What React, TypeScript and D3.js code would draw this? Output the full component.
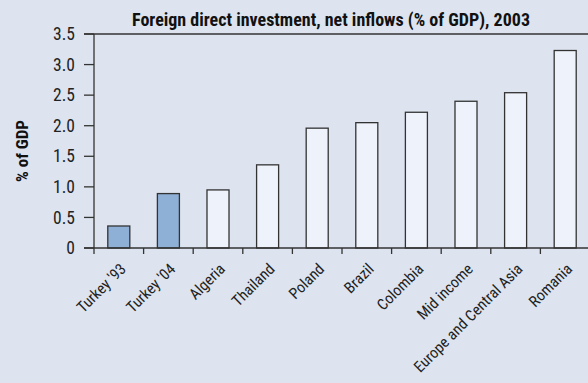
import React from "react";
import * as d3 from "d3";

const categories = ["Turkey '93", "Turkey '04", "Algeria", "Thailand", "Poland", "Brazil", "Colombia", "Mid income", "Europe and Central Asia", "Romania"];
const values = [0.36, 0.89, 0.95, 1.36, 1.96, 2.05, 2.22, 2.40, 2.54, 3.23];
const highlighted = [true, true, false, false, false, false, false, false, false, false];
const yTicks = [0, 0.5, 1.0, 1.5, 2.0, 2.5, 3.0, 3.5];
const yTickLabels = ["0", "0.5", "1.0", "1.5", "2.0", "2.5", "3.0", "3.5"];
const title = "Foreign direct investment, net inflows (% of GDP), 2003";
const yLabel = "% of GDP";

const W = 588, H = 383;
const left = 94, top = 34, bottom = 248;
const step = 49.6;
const FONT = "'Liberation Sans Narrow', 'Roboto Condensed', 'Arial Narrow', sans-serif";

export default function App() {
  // 11 slots; the last is cut off by the frame
  const domain = [...categories, "_"];
  const x = d3.scaleBand<string>().domain(domain).range([left, left + step * domain.length]).paddingInner(0.556).paddingOuter(0.278);
  const y = d3.scaleLinear().domain([0, 3.5]).range([bottom, top]);
  const boundaries = d3.range(domain.length + 1).map((i) => left + i * x.step());
  return (
    <svg width={W} height={H} style={{ position: "absolute", left: 0, top: 0, background: "#dde4ef" }}>
      <rect x={0} y={0} width={W} height={H} fill="#dde4ef" />
      <text x={331} y={26} textAnchor="middle" fontFamily={FONT} fontWeight="bold" fontSize={18} fill="#111">{title}</text>
      <text transform={`translate(28,${151}) rotate(-90)`} textAnchor="middle" fontFamily={FONT} fontWeight="bold" fontSize={17} fill="#111">{yLabel}</text>
      {categories.map((c, i) => (
        <rect key={c} x={x(c)} y={y(values[i])} width={x.bandwidth()} height={bottom - y(values[i])}
          fill={highlighted[i] ? "#8eafd6" : "#eef2fa"} stroke="#333" strokeWidth={1.3} />
      ))}
      <line x1={84} x2={W} y1={top} y2={top} stroke="#333" strokeWidth={1.3} />
      <line x1={left} x2={left} y1={top} y2={bottom} stroke="#333" strokeWidth={1.3} />
      <line x1={84} x2={W} y1={bottom} y2={bottom} stroke="#333" strokeWidth={1.3} />
      {yTicks.map((t, i) => (
        <g key={t}>
          <line x1={84} x2={left} y1={y(t)} y2={y(t)} stroke="#333" strokeWidth={1.3} />
          <text x={75} y={y(t)} dy="0.35em" textAnchor="end" fontFamily={FONT} fontSize={17.5} fill="#222">{yTickLabels[i]}</text>
        </g>
      ))}
      {boundaries.map((b, i) => (
        <line key={i} x1={b} x2={b} y1={bottom} y2={bottom + 6} stroke="#333" strokeWidth={1.3} />
      ))}
      {categories.map((c) => {
        const cx = (x(c) ?? 0) + x.bandwidth() / 2;
        return (
          <text key={c} transform={`translate(${cx + 8},${270}) rotate(-45)`} textAnchor="end"
            fontFamily={FONT} fontSize={15.5} fill="#222">{c}</text>
        );
      })}
    </svg>
  );
}
